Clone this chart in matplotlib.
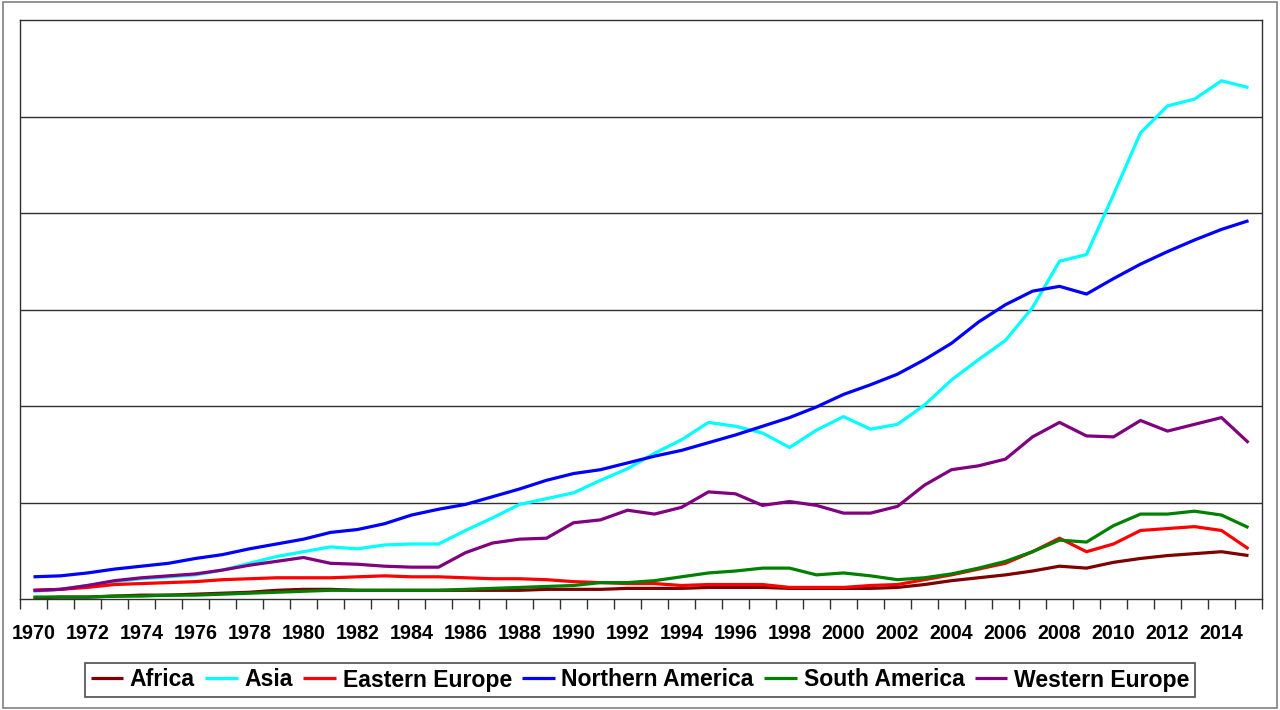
import matplotlib.pyplot as plt
from matplotlib.patches import Rectangle
import numpy as np

# years on a category axis, values in gridline units (no y labels in source)
years = list(range(1970, 2016))

africa = [0.01, 0.02, 0.02, 0.03, 0.04, 0.04, 0.05, 0.06, 0.07, 0.09, 0.10,
          0.10, 0.09, 0.09, 0.09, 0.09, 0.09, 0.09, 0.09, 0.10, 0.10, 0.10,
          0.11, 0.11, 0.11, 0.12, 0.12, 0.12, 0.11, 0.11, 0.11, 0.11, 0.12,
          0.15, 0.19, 0.22, 0.25, 0.29, 0.34, 0.32, 0.38, 0.42, 0.45, 0.47,
          0.49, 0.45]
asia = [0.08, 0.10, 0.14, 0.18, 0.21, 0.23, 0.25, 0.30, 0.37, 0.44, 0.49,
        0.54, 0.52, 0.56, 0.57, 0.57, 0.71, 0.84, 0.98, 1.04, 1.10, 1.23,
        1.35, 1.51, 1.65, 1.83, 1.79, 1.72, 1.57, 1.75, 1.89, 1.76, 1.81,
        2.01, 2.27, 2.48, 2.68, 3.02, 3.50, 3.57, 4.19, 4.83, 5.11, 5.18,
        5.37, 5.30]
eastern_europe = [0.09, 0.10, 0.12, 0.15, 0.16, 0.17, 0.18, 0.20, 0.21, 0.22,
                  0.22, 0.22, 0.23, 0.24, 0.23, 0.23, 0.22, 0.21, 0.21, 0.20,
                  0.18, 0.17, 0.16, 0.16, 0.14, 0.15, 0.15, 0.15, 0.12, 0.12,
                  0.12, 0.14, 0.15, 0.20, 0.25, 0.31, 0.37, 0.49, 0.63, 0.49,
                  0.57, 0.71, 0.73, 0.75, 0.71, 0.52]
northern_america = [0.23, 0.24, 0.27, 0.31, 0.34, 0.37, 0.42, 0.46, 0.52, 0.57,
                    0.62, 0.69, 0.72, 0.78, 0.87, 0.93, 0.98, 1.06, 1.14, 1.23,
                    1.30, 1.34, 1.41, 1.48, 1.54, 1.62, 1.70, 1.79, 1.88, 1.99,
                    2.12, 2.22, 2.33, 2.48, 2.65, 2.87, 3.05, 3.19, 3.24, 3.16,
                    3.32, 3.47, 3.60, 3.72, 3.83, 3.92]
south_america = [0.02, 0.02, 0.02, 0.03, 0.03, 0.04, 0.04, 0.05, 0.06, 0.07,
                 0.08, 0.09, 0.09, 0.09, 0.09, 0.09, 0.10, 0.11, 0.12, 0.13,
                 0.14, 0.17, 0.17, 0.19, 0.23, 0.27, 0.29, 0.32, 0.32, 0.25,
                 0.27, 0.24, 0.20, 0.22, 0.26, 0.32, 0.39, 0.49, 0.61, 0.59,
                 0.76, 0.88, 0.88, 0.91, 0.87, 0.74]
western_europe = [0.09, 0.10, 0.14, 0.19, 0.22, 0.24, 0.26, 0.30, 0.35, 0.39,
                  0.43, 0.37, 0.36, 0.34, 0.33, 0.33, 0.48, 0.58, 0.62, 0.63,
                  0.79, 0.82, 0.92, 0.88, 0.95, 1.11, 1.09, 0.97, 1.01, 0.97,
                  0.89, 0.89, 0.96, 1.18, 1.34, 1.38, 1.45, 1.68, 1.83, 1.69,
                  1.68, 1.85, 1.74, 1.81, 1.88, 1.62]

series = [
    ("Africa", africa, "#800000"),
    ("Asia", asia, "#00FFFF"),
    ("Eastern Europe", eastern_europe, "#FF0000"),
    ("Northern America", northern_america, "#0000FF"),
    ("South America", south_america, "#008000"),
    ("Western Europe", western_europe, "#800080"),
]

plt.rcParams["font.family"] = ["Liberation Sans", "DejaVu Sans"]
plt.rcParams["font.weight"] = "bold"

fig = plt.figure(figsize=(12.8, 7.1), dpi=100)
fig.patches.append(Rectangle((0.002, 0.003), 0.996, 0.994, transform=fig.transFigure,
                             fill=False, edgecolor="#808080", linewidth=1.2))
ax = fig.add_axes([20 / 1280, 111 / 710, 1242 / 1280, 579 / 710])

x = np.arange(len(years))
for name, vals, color in series:
    ax.plot(x, vals, color=color, linewidth=2.3, label=name, solid_capstyle="butt")

ax.set_xlim(-0.5, len(years) - 0.5)
ax.set_ylim(0, 6)

for y in range(1, 6):
    ax.axhline(y, color="#303030", linewidth=1.0, zorder=0)

ax.set_yticks([])
ax.set_xticks(np.arange(-0.5, len(years) + 0.5, 1.0))
ax.set_xticklabels([])
ax.tick_params(axis="x", which="major", direction="out", length=7, width=1.0, color="#303030")
ax.set_xticks(x[::2], minor=True)
ax.set_xticklabels([str(yr) for yr in years[::2]], minor=True, fontsize=14.2,
                   fontweight="bold")
ax.tick_params(axis="x", which="minor", length=0, pad=18)

for spine in ax.spines.values():
    spine.set_color("#303030")
    spine.set_linewidth(1.0)

leg = fig.legend(loc="center", bbox_to_anchor=(640 / 1280, 1 - 680 / 710), ncol=6,
                 frameon=True, fancybox=False, shadow=False,
                 handlelength=1.4, handletextpad=0.3, columnspacing=0.45,
                 borderpad=0.25, borderaxespad=0.0,
                 prop={"weight": "bold", "size": 16.6})
leg.get_frame().set_edgecolor("#202020")
leg.get_frame().set_linewidth(1.2)

fig.savefig("out.png", dpi=100)
